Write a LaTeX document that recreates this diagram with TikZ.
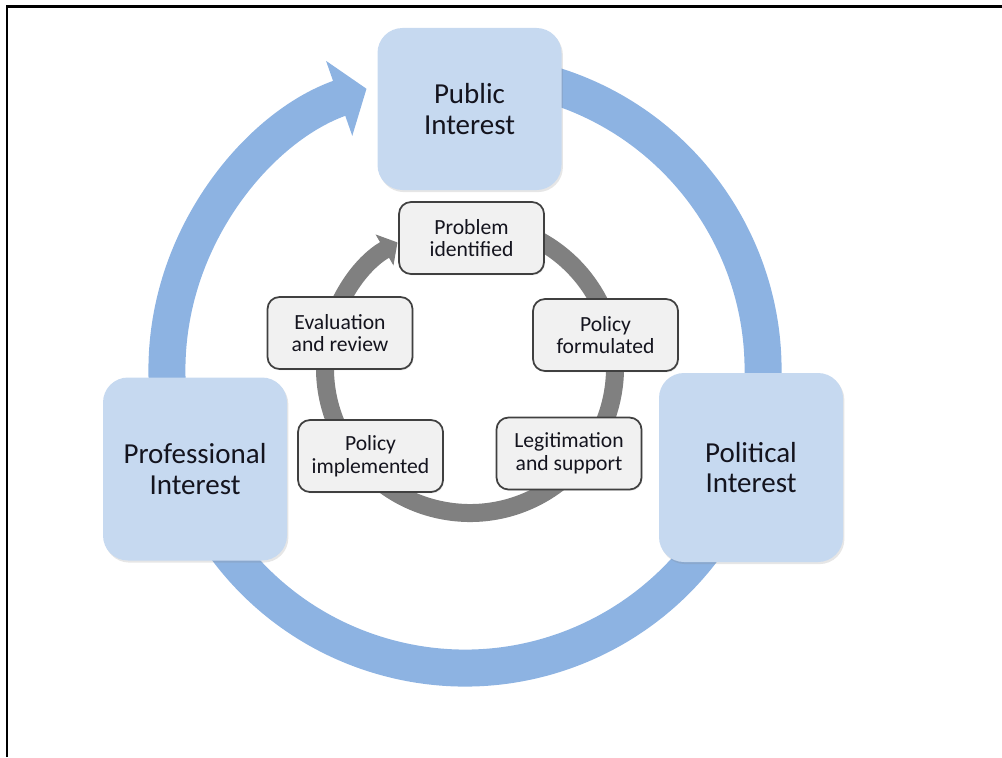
\documentclass[tikz,border=0pt]{standalone}
\usepackage{fontspec}
\setmainfont{Carlito}
\usepackage{tikz}
\usetikzlibrary{arrows.meta, positioning, shadows}
\definecolor{ringblue}{RGB}{141,179,226}
\definecolor{boxblue}{RGB}{198,217,240}
\definecolor{ringgray}{RGB}{128,128,128}
\definecolor{boxgray}{RGB}{241,241,241}
\definecolor{txt}{RGB}{20,20,30}

\begin{document}
\begin{tikzpicture}[>=Triangle, semithick]
\tikzstyle{interest}=[rectangle,rounded corners=0.5cm,fill=boxblue,text=txt,align=center,minimum width=3.68cm,minimum height=3.66cm,font=\fontsize{16.5}{17.5}\selectfont,drop shadow={opacity=0.2,shadow xshift=0.8pt,shadow yshift=-1.2pt}]
\tikzstyle{stage}=[rectangle,rounded corners=0.24cm,draw=black!75,line width=1pt,fill=boxgray,text=txt,align=center,minimum width=2.9cm,minimum height=1.44cm,font=\fontsize{12.3}{13}\selectfont,drop shadow={opacity=0.15,shadow xshift=0.6pt,shadow yshift=-0.8pt}]
\useasboundingbox (0,0) rectangle (20.04,15.14);
\draw[line width=1.6pt] (0.14,0) -- (0.14,15.01) -- (20.04,15.01);
% ring centres
\coordinate (OC) at (9.30,7.74);
\coordinate (IC) at (9.40,7.78);
% outer and inner cycle
\draw[ringblue, line width=0.74cm, -{Triangle[length=0.58cm, width=1.56cm]}]
  (OC) ++(75:5.96) arc[start angle=75, end angle=-250.7, radius=5.96];
\draw[ringgray, line width=0.36cm, -{Triangle[length=0.3cm, width=0.7cm]}]
  (IC) ++(80:2.9) arc[start angle=80, end angle=-240, radius=2.9];
% interests
\node[interest, minimum height=3.24cm] (PI)  at (9.39,12.96) {Public\\Interest};
\node[interest]                        (PrI) at (3.90,5.76)  {Professional\\Interest};
\node[interest, minimum height=3.78cm] (PoI) at (15.02,5.79) {Political\\Interest};
% stages
\node[stage] (PID) at (9.43,10.38) {Problem\\identified};
\node[stage] (PF)  at (12.11,8.44) {Policy\\formulated};
\node[stage] (LS)  at (11.38,6.07) {Legitimation\\and support};
\node[stage] (PIm) at (7.41,6.02)  {Policy\\implemented};
\node[stage] (ER)  at (6.80,8.48)  {Evaluation\\and review};
\end{tikzpicture}
\end{document}
